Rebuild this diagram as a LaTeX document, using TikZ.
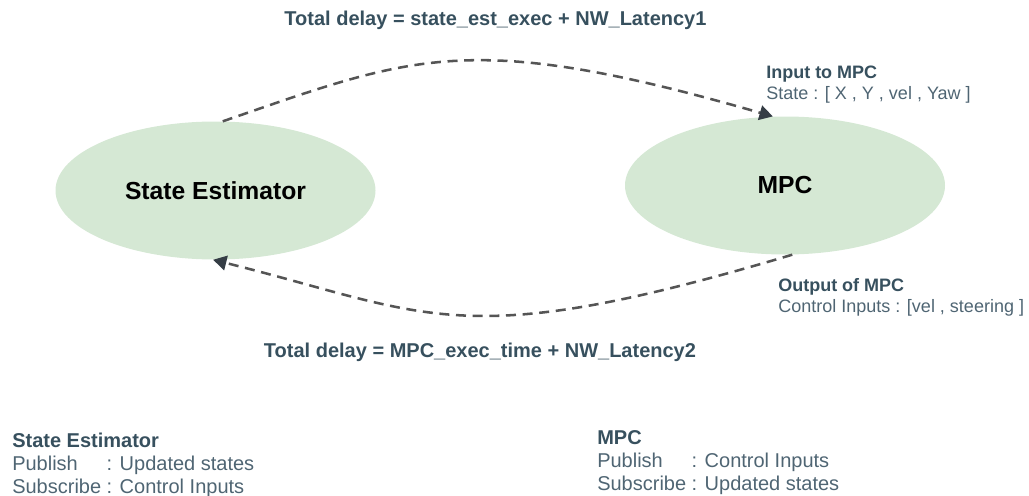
\documentclass[tikz,border=0pt]{standalone}
\usepackage{fontspec}
\setmainfont{Liberation Sans}
\usetikzlibrary{arrows.meta,shapes.geometric}

\definecolor{nodegreen}{HTML}{D5E8D4}
\definecolor{linegray}{HTML}{555555}
\definecolor{tipgray}{HTML}{353D45}
\definecolor{headtext}{HTML}{37505E}
\definecolor{bodytext}{HTML}{4F6573}

\tikzset{
  proc/.style={ellipse, fill=nodegreen, minimum width=240pt, minimum height=103.5pt,
    inner sep=0pt, font=\fontsize{18.5}{22}\selectfont\bfseries},
  flow/.style={draw=linegray, line width=1.9pt, dash pattern=on 7.5pt off 5pt,
    -{Triangle[length=10pt,width=11pt,color=tipgray]}},
  delay/.style={text=headtext, inner sep=0pt, font=\fontsize{15}{18}\selectfont\bfseries},
  port/.style={text=bodytext, anchor=base west, inner sep=0pt, font=\fontsize{13.5}{15.75}\selectfont},
  info/.style={text=bodytext, anchor=base west, inner sep=0pt, font=\fontsize{15}{17.25}\selectfont}
}

\begin{document}
\begin{tikzpicture}[x=0.75pt, y=-0.75pt]
            \useasboundingbox (0, 0) rectangle (1029, 496);
            \node[proc] (estimator) at (215.5, 190.5) {State Estimator};
            \node[proc] (mpc) at (785, 185.5) {MPC};
            \node[delay] (fwddelay) at (495.5, 20) {Total delay = state\_est\_exec + NW\_Latency1};
            \node[delay] (bwddelay) at (480, 352) {Total delay = MPC\_exec\_time + NW\_Latency2};
            \node[port] (mpcin) at (766, 78.5) {\begin{tabular}[t]{@{}l@{}}
                \textcolor{headtext}{\bfseries Input to MPC}\\
                State : [ X , Y , vel , Yaw ]\end{tabular}};
            \node[port] (mpcout) at (778, 291.5) {\begin{tabular}[t]{@{}l@{}}
                \textcolor{headtext}{\bfseries Output of MPC}\\
                Control Inputs : [vel , steering ]\end{tabular}};
            % publish / subscribe summary
            \node[info] (estinfo) at (12, 447) {\begin{tabular}[t]{@{}l@{ }l@{}}
                \multicolumn{2}{@{}l@{}}{\textcolor{headtext}{\bfseries State Estimator}}\\
                Publish & : Updated states\\
                Subscribe & : Control Inputs\end{tabular}};
            \node[info] (mpcinfo) at (597, 444) {\begin{tabular}[t]{@{}l@{ }l@{}}
                \multicolumn{2}{@{}l@{}}{\textcolor{headtext}{\bfseries MPC}}\\
                Publish & : Control Inputs\\
                Subscribe & : Updated states\end{tabular}};
            \draw[flow] (estimator.84) .. controls (413, 56) and (468, 28.5) .. (mpc.100);
            \draw[flow] (mpc.276) .. controls (459, 354) and (432, 314.5) .. (estimator.268);
\end{tikzpicture}
\end{document}
